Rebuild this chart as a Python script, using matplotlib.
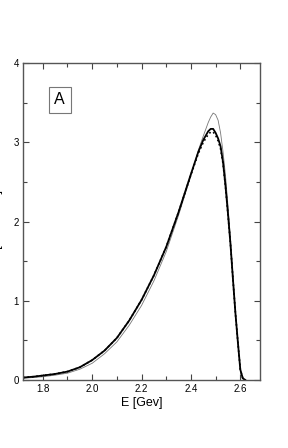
import matplotlib
matplotlib.use('Agg')
import matplotlib.pyplot as plt
from matplotlib.ticker import MultipleLocator

plt.rcParams['font.family'] = ['Liberation Sans', 'DejaVu Sans']

# energies
E = [1.72, 1.76, 1.80, 1.85, 1.90, 1.95, 2.00, 2.05, 2.10, 2.15, 2.20, 2.25,
     2.30, 2.35, 2.40, 2.43, 2.45, 2.47, 2.48, 2.49, 2.50, 2.51, 2.52, 2.53,
     2.54, 2.55, 2.56, 2.57, 2.58, 2.59, 2.60, 2.61, 2.62]

# thick solid curve
thick = [0.03, 0.04, 0.055, 0.075, 0.105, 0.16, 0.25, 0.37, 0.53, 0.75, 1.01, 1.32,
         1.68, 2.12, 2.60, 2.88, 3.03, 3.14, 3.17, 3.17, 3.12, 3.05, 2.95, 2.75,
         2.45, 2.10, 1.72, 1.28, 0.85, 0.48, 0.13, 0.02, 0.0]

# dotted curve
dotted = [0.03, 0.04, 0.055, 0.075, 0.105, 0.16, 0.25, 0.37, 0.53, 0.75, 1.01, 1.32,
          1.68, 2.12, 2.59, 2.86, 3.00, 3.10, 3.13, 3.13, 3.09, 3.02, 2.92, 2.73,
          2.44, 2.09, 1.72, 1.28, 0.85, 0.48, 0.13, 0.02, 0.0]

# thin grey curve
thin = [0.02, 0.03, 0.04, 0.06, 0.085, 0.135, 0.21, 0.33, 0.48, 0.69, 0.94, 1.25,
        1.62, 2.08, 2.58, 2.90, 3.08, 3.25, 3.32, 3.37, 3.35, 3.28, 3.12, 2.88,
        2.58, 2.20, 1.78, 1.32, 0.87, 0.48, 0.13, 0.02, 0.0]

fig = plt.figure(figsize=(2.88, 4.48), dpi=100)
ax = fig.add_axes([0.08, 0.152, 0.823, 0.707])

ax.plot(E, thin, '-', color='#777777', lw=0.6)
ax.plot(E, dotted, ':', color='black', lw=1.2)
ax.plot(E, thick, '-', color='black', lw=1.3)

ax.set_xlim(1.72, 2.68)
ax.set_ylim(0, 4)
ax.xaxis.set_major_locator(MultipleLocator(0.2))
ax.xaxis.set_minor_locator(MultipleLocator(0.1))
ax.yaxis.set_major_locator(MultipleLocator(1))
ax.yaxis.set_minor_locator(MultipleLocator(0.5))
ax.tick_params(which='both', direction='in', top=True, right=True,
               labelsize=7, color='#444444', pad=3)
ax.tick_params(which='major', length=4, width=0.8)
ax.tick_params(which='minor', length=3, width=0.8)
for s in ax.spines.values():
    s.set_color('#555555')
    s.set_linewidth(1.0)

ax.set_xlabel('E [Gev]', fontsize=9, labelpad=2)
ax.set_ylabel('dΓ/dE [arb. units]', fontsize=9)
ax.yaxis.set_label_coords(-0.085, 0.45)

ax.text(0.155, 0.885, 'A', transform=ax.transAxes, fontsize=11.5,
        ha='center', va='center',
        bbox=dict(boxstyle='square,pad=0.35', fc='white', ec='#777777', lw=0.8))

fig.savefig('out.png', dpi=100)
